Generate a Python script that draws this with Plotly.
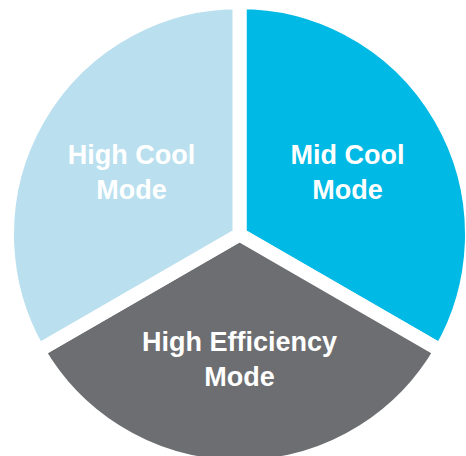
import plotly.graph_objects as go

labels = ["Mid Cool<br>Mode", "High Efficiency<br>Mode", "High Cool<br>Mode"]
values = [1, 1, 1]
colors = ["#00B9E4", "#6D6E71", "#BADFEE"]

W, H = 479, 469

fig = go.Figure(go.Pie(
    labels=labels,
    values=values,
    sort=False,
    direction="clockwise",
    rotation=0,
    marker=dict(colors=colors, line=dict(color="white", width=14)),
    textinfo="label",
    textposition="inside",
    insidetextorientation="horizontal",
    textfont=dict(family="Liberation Sans, Arial, sans-serif", size=27, color="white", weight="bold"),
    hoverinfo="skip",
    domain=dict(x=[7 / W, 472 / W], y=[0, 1]),
    showlegend=False,
))

fig.update_layout(
    width=W,
    height=H,
    margin=dict(l=0, r=0, t=0, b=0),
    paper_bgcolor="white",
    plot_bgcolor="white",
)

fig.write_html(
    "out.html",
    config={"displayModeBar": False},
    post_script="document.body.style.margin='0';document.body.style.overflow='hidden';",
)
